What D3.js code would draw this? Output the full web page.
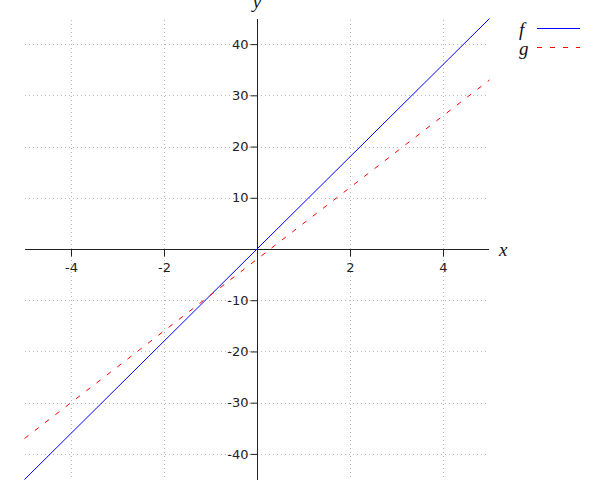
<!DOCTYPE html>
<html><head><meta charset="utf-8">
<script src="https://cdn.jsdelivr.net/npm/d3@7"></script>
<style>body{margin:0;background:#fff}svg{display:block}</style>
</head><body><svg id="c" width="600" height="500"></svg>
<script>
const xs = [-5, 5];
const fVals = [-45, 45];
const gVals = [-37, 33];
const xTicks = [-4, -2, 2, 4];
const yTicks = [-40, -30, -20, -10, 10, 20, 30, 40];
const seriesNames = ["f", "g"];

const svg = d3.select("#c");
const x = d3.scaleLinear().domain([-5, 5]).range([24.5, 489.5]);
const y = d3.scaleLinear().domain([-45, 45]).range([479.5, 18.5]);
const x0 = Math.round(x(0)) + 0.5, y0 = Math.round(y(0)) + 0.5;
const fmt = d => String(d);

// grid
const grid = svg.append("g").attr("stroke", "#b8b8b8").attr("stroke-width", 1).attr("stroke-dasharray", "1,3");
grid.selectAll("line.v").data(xTicks).join("line").attr("class","v")
  .attr("x1", d => Math.round(x(d)) + 0.5).attr("x2", d => Math.round(x(d)) + 0.5)
  .attr("y1", 20).attr("y2", 480);
grid.selectAll("line.h").data(yTicks).join("line").attr("class","h")
  .attr("y1", d => Math.round(y(d)) + 0.5).attr("y2", d => Math.round(y(d)) + 0.5)
  .attr("x1", 25).attr("x2", 489);

// axes
const xAxis = d3.axisBottom(x).tickValues(xTicks).tickSize(7).tickPadding(6).tickFormat(fmt);
const yAxis = d3.axisLeft(y).tickValues(yTicks).tickSize(7).tickPadding(2).tickFormat(fmt);
const gx = svg.append("g").attr("transform", `translate(0,${y0})`).call(xAxis);
const gy = svg.append("g").attr("transform", `translate(${x0},0)`).call(yAxis);
[gx, gy].forEach(g => {
  g.select(".domain").remove();
  g.selectAll("line").attr("stroke", "#222");
  g.selectAll("text").attr("fill", "#222").style("font-family", "'DejaVu Sans', sans-serif").style("font-size", "13px");
});
svg.append("line").attr("x1", 25).attr("x2", 489).attr("y1", y0).attr("y2", y0).attr("stroke", "#222");
svg.append("line").attr("x1", x0).attr("x2", x0).attr("y1", 19).attr("y2", 480).attr("stroke", "#222");

// series
const fData = xs.map((v, i) => [v, fVals[i]]);
const gData = xs.map((v, i) => [v, gVals[i]]);
const line = d3.line().x(d => x(d[0])).y(d => y(d[1]));
svg.append("path").attr("d", line(fData)).attr("fill", "none").attr("stroke", "#0000ff").attr("stroke-width", 1);
svg.append("path").attr("d", line(gData)).attr("fill", "none").attr("stroke", "#ff0000").attr("stroke-width", 1).attr("stroke-dasharray", "5,8");

// labels
const lab = (t, px, py, anchor) => svg.append("text").text(t).attr("x", px).attr("y", py)
  .attr("text-anchor", anchor || "start").style("font-family", "'Liberation Serif', 'Times New Roman', serif").style("font-style", "italic").style("font-size", "19px").attr("fill", "#111");
lab("x", 499, 256);
lab("y", 257, 8, "middle");

// legend
const legColors = ["#0000ff", "#ff0000"];
const legDash = [null, "5,8"];
seriesNames.forEach((n, i) => {
  const ly = 28.5 + i * 19;
  lab(n, 519, ly + 7);
  svg.append("line").attr("x1", 537).attr("x2", 580).attr("y1", ly).attr("y2", ly)
    .attr("stroke", legColors[i]).attr("stroke-dasharray", legDash[i]);
});
</script></body></html>
